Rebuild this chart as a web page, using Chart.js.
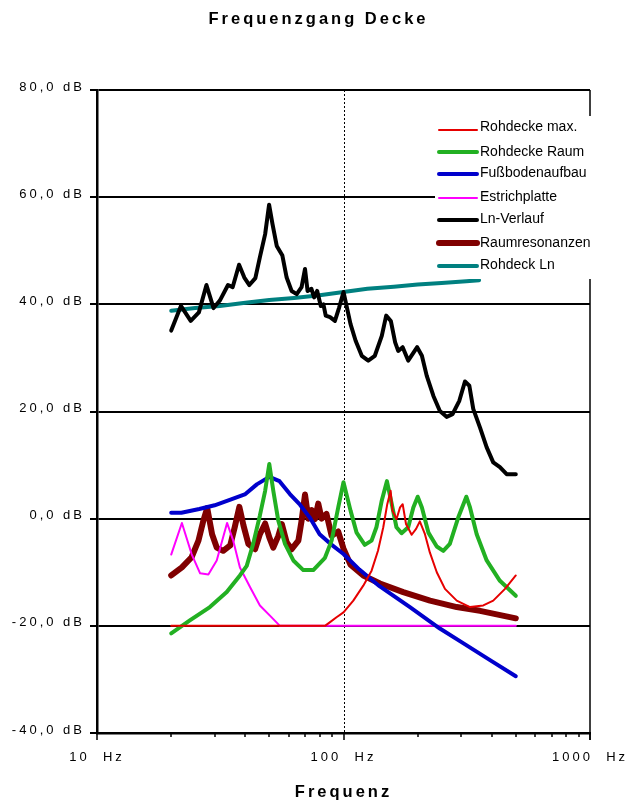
<!DOCTYPE html>
<html>
<head>
<meta charset="utf-8">
<title>Frequenzgang Decke</title>
<script src="https://cdn.jsdelivr.net/npm/chart.js@4/dist/chart.umd.min.js"></script>
<style>
  html, body { margin: 0; padding: 0; background: #fff; }
  canvas { display: block; }
</style>
</head>
<body>
<canvas id="chart" width="637" height="802"></canvas>
<script>
// Frequency axis (Hz) and level (dB) for each curve
const rohMaxFreq = [20, 84.1, 88.2, 93.7, 100, 109.6, 120.3, 130, 138, 145, 150.5, 155.3, 158, 164, 169.6, 173.8, 179.3, 189, 197, 204, 214, 224, 239, 258, 288, 326, 369, 405, 452, 500];
const rohMax     = [-20, -20, -19.3, -18.4, -17.5, -15.3, -12.5, -9.7, -6.0, -1.6, 2.7, 5.2, 1.5, -0.1, 2.1, 2.7, -1.0, -3.0, -1.9, -0.5, -2.9, -6.3, -10.0, -13.1, -15.3, -16.5, -16.2, -15.3, -13.1, -10.6];

const rohRaumFreq = [20, 23.8, 28.7, 33.6, 38.0, 40.5, 43.0, 45.8, 48.1, 50, 51.9, 54.4, 57.9, 62.6, 68.7, 75.4, 84.1, 89.5, 95.2, 100, 106.8, 113, 122, 130, 136, 143, 150, 157, 164, 172, 183, 192, 200, 208, 221, 239, 254, 270, 292, 315, 326, 347, 381, 431, 500];
const rohRaum     = [-21.4, -19.0, -16.5, -13.7, -10.6, -8.8, -4.7, 0.6, 5.2, 10.2, 5.2, -0.4, -4.7, -7.8, -9.6, -9.6, -7.3, -4.1, 2.1, 6.8, 1.5, -2.6, -4.9, -4.1, -1.6, 3.4, 7.0, 2.7, -1.6, -2.7, -1.6, 2.1, 4.1, 2.1, -2.6, -5.2, -6.0, -4.7, 0.2, 4.1, 2.1, -2.9, -7.8, -11.6, -14.4];

const bodenFreq = [20, 22, 26, 30, 35, 40, 44.5, 50, 55, 60.6, 66.6, 73, 80, 88, 100, 116, 140, 186, 246, 300, 393, 500];
const boden     = [1.1, 1.1, 1.8, 2.5, 3.6, 4.6, 6.4, 7.8, 7.0, 4.6, 2.6, 0.2, -2.9, -4.6, -6.6, -9.5, -12.6, -16.5, -20.5, -23.0, -26.4, -29.4];

const estrichFreq = [20, 22.1, 24.2, 26.2, 28.3, 30.6, 33.7, 35.7, 38.0, 41.8, 45.8, 50.3, 55.2, 500];
const estrich     = [-6.7, -0.8, -6.6, -10.2, -10.4, -7.8, -0.8, -4.1, -9.1, -12.8, -16.2, -18.1, -20.0, -20.0];

const lnFreq = [20, 21.9, 24.0, 25.9, 27.8, 29.7, 31.5, 34.0, 35.5, 37.7, 39.6, 41.5, 43.9, 45.8, 48.1, 49.9, 51.5, 53.6, 56.5, 58.8, 61.6, 64.6, 67.6, 69.8, 71.5, 74.1, 76.0, 78.2, 80.9, 82.9, 84.7, 88.2, 92.3, 96.0, 100, 106.8, 112, 118.6, 126, 134, 143, 149, 155.6, 162, 166.7, 173.8, 183, 199, 208, 217.5, 231.6, 246, 262, 277, 295, 311, 324, 336, 358, 381, 405, 431, 459, 500];
const lnLevel = [35.1, 39.7, 36.9, 38.5, 43.6, 39.3, 40.7, 43.6, 43.2, 47.4, 45.0, 43.6, 44.9, 48.8, 53.1, 58.6, 55.0, 50.9, 49.1, 45.0, 42.5, 41.9, 43.2, 46.6, 42.5, 42.9, 41.3, 42.5, 39.7, 40.0, 37.9, 37.6, 36.9, 39.4, 42.3, 36.3, 33.2, 30.4, 29.5, 30.4, 34.1, 37.9, 36.9, 32.9, 31.3, 32.0, 29.5, 32.0, 30.4, 26.7, 22.9, 20.1, 19.0, 19.5, 22.0, 25.6, 24.8, 20.5, 17.0, 13.3, 10.5, 9.6, 8.3, 8.3];

const raumFreq = [20, 22.1, 24.2, 25.8, 27.0, 28.0, 29.3, 30.6, 32.5, 34.7, 36.2, 37.8, 39.3, 41.1, 43.8, 45.8, 48.1, 50, 51.9, 54.4, 56.2, 58.8, 61.6, 65.6, 67.6, 69.8, 72.0, 74.3, 76.6, 79.0, 81.5, 85.3, 89.5, 95.2, 100, 106.8, 120.3, 140.6, 174.7, 224.4, 288, 358, 500];
const raumRes  = [-10.6, -9.1, -7.2, -4.1, -0.4, 2.0, -2.9, -5.4, -6.0, -5.0, -1.6, 2.2, -1.3, -4.7, -5.7, -2.9, -0.9, -3.5, -5.4, -3.2, -1.0, -4.4, -5.7, -4.1, -0.4, 4.5, 0.0, 1.6, -0.1, 2.8, 0.0, 0.9, -3.2, -2.4, -5.6, -8.6, -10.6, -12.1, -13.7, -15.3, -16.5, -17.2, -18.6];

const rohLnFreq = [20, 25, 31.5, 40, 50, 63, 80, 100, 125, 160, 200, 250, 315, 355];
const rohLn     = [38.8, 39.3, 39.7, 40.3, 40.8, 41.2, 41.7, 42.3, 42.9, 43.3, 43.7, 44.0, 44.3, 44.5];

// Axis ticks
const freqTicks = [10, 100, 1000];
const minorFreqTicks = [20, 30, 40, 50, 60, 70, 80, 90, 200, 300, 400, 500, 600, 700, 800, 900];
const levelMin = -40, levelMax = 80, levelStep = 20;

const FONT = '"Liberation Sans", Arial, Helvetica, sans-serif';
const toPoints = (f, v) => f.map((x, i) => ({ x, y: v[i] }));

const curves = [
  { label: 'Rohdecke max.',   f: rohMaxFreq,  v: rohMax,   color: '#e60000', width: 2 },
  { label: 'Rohdecke Raum',   f: rohRaumFreq, v: rohRaum,  color: '#22b022', width: 4 },
  { label: 'Fußbodenaufbau',  f: bodenFreq,   v: boden,    color: '#0000cc', width: 4 },
  { label: 'Estrichplatte',   f: estrichFreq, v: estrich,  color: '#ff00ff', width: 2 },
  { label: 'Ln-Verlauf',      f: lnFreq,      v: lnLevel,  color: '#000000', width: 4 },
  { label: 'Raumresonanzen',  f: raumFreq,    v: raumRes,  color: '#800000', width: 6 },
  { label: 'Rohdeck Ln',      f: rohLnFreq,   v: rohLn,    color: '#008080', width: 4 }
];

// Frame details: right border, dotted 100 Hz line, tick marks, in-plot legend
const framePlugin = {
  id: 'frame',
  beforeDraw(chart) {
    chart.ctx.letterSpacing = '3px';
  },
  beforeDatasetsDraw(chart) {
    const { ctx, chartArea: a, scales: { x } } = chart;
    ctx.save();
    ctx.strokeStyle = '#000';
    // right frame line
    ctx.lineWidth = 1.5;
    ctx.beginPath();
    ctx.moveTo(a.right, a.top);
    ctx.lineTo(a.right, a.bottom + 7);
    ctx.stroke();
    // dotted reference line at 100 Hz
    const px = Math.round(x.getPixelForValue(100)) + 0.5;
    ctx.lineWidth = 1;
    ctx.setLineDash([2, 2]);
    ctx.beginPath();
    ctx.moveTo(px, a.top);
    ctx.lineTo(px, a.bottom);
    ctx.stroke();
    ctx.setLineDash([]);
    // tick marks below the frequency axis
    ctx.lineWidth = 1.5;
    const drawTick = (v, len) => {
      const tx = Math.round(x.getPixelForValue(v));
      ctx.beginPath();
      ctx.moveTo(tx, a.bottom);
      ctx.lineTo(tx, a.bottom + len);
      ctx.stroke();
    };
    freqTicks.forEach(v => drawTick(v, 7));
    minorFreqTicks.forEach(v => drawTick(v, 4));
    ctx.restore();
  },
  afterDatasetsDraw(chart) {
    const { ctx } = chart;
    ctx.save();
    ctx.letterSpacing = '0px';
    ctx.fillStyle = '#fff';
    ctx.fillRect(435, 116, 165, 163);
    const lineY = [130, 152, 174, 198, 220, 243, 266];
    const textY = [127, 152, 173, 197, 219, 243, 265];
    ctx.font = '14px ' + FONT;
    ctx.textBaseline = 'middle';
    ctx.textAlign = 'left';
    chart.data.datasets.forEach((ds, i) => {
      ctx.strokeStyle = ds.borderColor;
      ctx.lineWidth = ds.borderWidth;
      ctx.lineCap = 'round';
      ctx.beginPath();
      ctx.moveTo(439, lineY[i]);
      ctx.lineTo(477, lineY[i]);
      ctx.stroke();
      ctx.fillStyle = '#000';
      ctx.fillText(ds.label, 480, textY[i]);
    });
    ctx.restore();
  }
};

new Chart(document.getElementById('chart'), {
  type: 'line',
  data: {
    datasets: curves.map(c => ({
      label: c.label,
      data: toPoints(c.f, c.v),
      borderColor: c.color,
      backgroundColor: c.color,
      borderWidth: c.width,
      pointRadius: 0,
      tension: 0,
      fill: false,
      borderJoinStyle: 'round',
      borderCapStyle: 'round'
    }))
  },
  options: {
    responsive: false,
    animation: false,
    devicePixelRatio: 1,
    layout: { padding: 0 },
    plugins: {
      legend: { display: false },
      tooltip: { enabled: false },
      title: {
        display: true,
        text: 'Frequenzgang Decke',
        color: '#000',
        font: { family: FONT, size: 16.5, weight: 'bold', lineHeight: 1.2 },
        padding: { top: 9.6, bottom: 60.6 }
      }
    },
    scales: {
      x: {
        type: 'logarithmic',
        min: 10,
        max: 1000,
        afterBuildTicks(scale) { scale.ticks = freqTicks.map(v => ({ value: v })); },
        afterFit(scale) { scale.height = 69; },
        grid: { drawOnChartArea: false, drawTicks: false },
        border: { display: true, color: '#000', width: 2.5 },
        ticks: {
          autoSkip: false,
          maxRotation: 0,
          padding: 17,
          color: '#000',
          font: { family: FONT, size: 13 },
          callback: v => v + '  Hz'
        },
        title: {
          display: true,
          text: 'Frequenz',
          color: '#000',
          font: { family: FONT, size: 16.5, weight: 'bold', lineHeight: 1.2 },
          padding: { top: 0, bottom: 0 }
        }
      },
      y: {
        min: levelMin,
        max: levelMax,
        afterFit(scale) { scale.width = 97; },
        grid: { color: '#000', lineWidth: 2, tickLength: 7, drawTicks: true },
        border: { display: true, color: '#000', width: 2.5 },
        ticks: {
          stepSize: levelStep,
          padding: 5,
          labelOffset: -3,
          color: '#000',
          font: { family: FONT, size: 13 },
          callback: v => v.toFixed(1).replace('.', ',') + ' dB'
        }
      },
      // empty right-hand margin so the plot ends at the same place as the frame
      yRight: {
        position: 'right',
        display: true,
        afterFit(scale) { scale.width = 47; },
        grid: { display: false, drawOnChartArea: false, drawTicks: false },
        border: { display: false },
        ticks: { display: false }
      }
    }
  },
  plugins: [framePlugin]
});
</script>
</body>
</html>
